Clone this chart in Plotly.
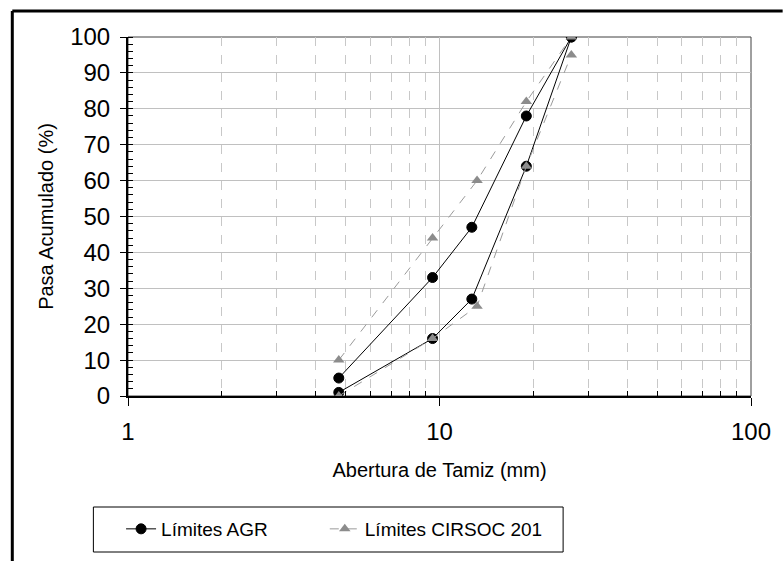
import plotly.graph_objects as go

# Sieve openings (mm)
agr_sizes = [4.75, 9.5, 12.7, 19.0, 26.5]
agr_upper = [5, 33, 47, 78, 100]
agr_lower = [1, 16, 27, 64, 100]

cirsoc_sizes = [4.75, 9.5, 13.2, 19.0, 26.5]
cirsoc_upper = [10, 44, 60, 82, 100]
cirsoc_lower = [0, 16, 25, 64, 95]

y_ticks = [0, 10, 20, 30, 40, 50, 60, 70, 80, 90, 100]
x_ticks = [1, 10, 100]
x_minor = [2, 3, 4, 5, 6, 7, 8, 9, 20, 30, 40, 50, 60, 70, 80, 90]

FONT = "Liberation Sans, Arial, sans-serif"

fig = go.Figure()

agr_line = dict(color="black", width=1)
agr_marker = dict(symbol="circle", size=10, color="black", line=dict(color="black", width=1))
cir_line = dict(color="#9a9a9a", width=1, dash="dash")
cir_marker = dict(symbol="triangle-up", size=10, color="#8c8c8c", line=dict(width=0))

fig.add_trace(go.Scatter(x=agr_sizes, y=agr_upper, mode="lines+markers", name="Límites AGR",
                         line=agr_line, marker=agr_marker, legendgroup="agr", showlegend=True,
                         legend="legend"))
fig.add_trace(go.Scatter(x=agr_sizes, y=agr_lower, mode="lines+markers", name="Límites AGR",
                         line=agr_line, marker=agr_marker, legendgroup="agr", showlegend=False,
                         legend="legend"))
fig.add_trace(go.Scatter(x=cirsoc_sizes, y=cirsoc_upper, mode="lines+markers", name="Límites CIRSOC 201",
                         line=cir_line, marker=cir_marker, legendgroup="cir", showlegend=True,
                         legend="legend2"))
fig.add_trace(go.Scatter(x=cirsoc_sizes, y=cirsoc_lower, mode="lines+markers", name="Límites CIRSOC 201",
                         line=cir_line, marker=cir_marker, legendgroup="cir", showlegend=False,
                         legend="legend2"))

L, R, T, B = 128, 25, 37, 165
W, H = 783, 561
pw, ph = W - L - R, H - T - B

def px_to_paper_x(px):
    return (px - L) / pw

def px_to_paper_y(py):
    return (H - B - py) / ph

legend_common = dict(
    orientation="h",
    xanchor="left", yanchor="top",
    borderwidth=0, bgcolor="rgba(0,0,0,0)",
    font=dict(size=19, family=FONT),
    itemwidth=30,
)

fig.update_layout(
    width=W, height=H,
    margin=dict(l=L, r=R, t=T, b=B),
    paper_bgcolor="white", plot_bgcolor="white",
    font=dict(family=FONT, color="black", size=20),
    showlegend=True,
    legend=dict(x=px_to_paper_x(121), y=px_to_paper_y(510), **legend_common),
    legend2=dict(x=px_to_paper_x(327), y=px_to_paper_y(510), **legend_common),
    xaxis=dict(
        type="log", range=[0, 2],
        tickvals=x_ticks, ticktext=[str(v) for v in x_ticks],
        ticks="outside", ticklen=8, tickwidth=1, tickcolor="black",
        tickfont=dict(size=24),
        ticklabelstandoff=5,
        showline=True, linecolor="black", linewidth=2,
        showgrid=True, gridcolor="#c0c0c0", gridwidth=1,
        zeroline=False,
        minor=dict(tickvals=x_minor, ticks="inside", ticklen=5, tickcolor="black",
                   showgrid=True, gridcolor="#c8c8c8", griddash="dash", gridwidth=1),
        title=dict(text="Abertura de Tamiz (mm)", font=dict(size=20), standoff=19),
    ),
    yaxis=dict(
        range=[0, 100],
        tickvals=y_ticks,
        ticks="outside", ticklen=6, tickwidth=1, tickcolor="black",
        tickfont=dict(size=24),
        ticklabelstandoff=5,
        showline=True, linecolor="black", linewidth=2,
        showgrid=True, gridcolor="#c0c0c0", gridwidth=1,
        zeroline=False,
        minor=dict(dtick=2, ticks="inside", ticklen=5, tickcolor="black", showgrid=False),
        title=dict(text="Pasa Acumulado (%)", font=dict(size=20), standoff=11),
    ),
    shapes=[
        dict(type="rect", xref="paper", yref="paper", x0=0, y0=0, x1=1, y1=1,
             line=dict(color="#404040", width=1), layer="below"),
        dict(type="rect", xref="paper", yref="paper",
             x0=px_to_paper_x(93), y0=px_to_paper_y(552), x1=px_to_paper_x(568), y1=px_to_paper_y(507),
             line=dict(color="black", width=1)),
        dict(type="line", xref="paper", yref="paper",
             x0=px_to_paper_x(11), y0=px_to_paper_y(11), x1=px_to_paper_x(790), y1=px_to_paper_y(11),
             line=dict(color="black", width=3)),
        dict(type="line", xref="paper", yref="paper",
             x0=px_to_paper_x(11), y0=px_to_paper_y(11), x1=px_to_paper_x(11), y1=px_to_paper_y(570),
             line=dict(color="black", width=3)),
    ],
)

fig.write_html("out.html")
